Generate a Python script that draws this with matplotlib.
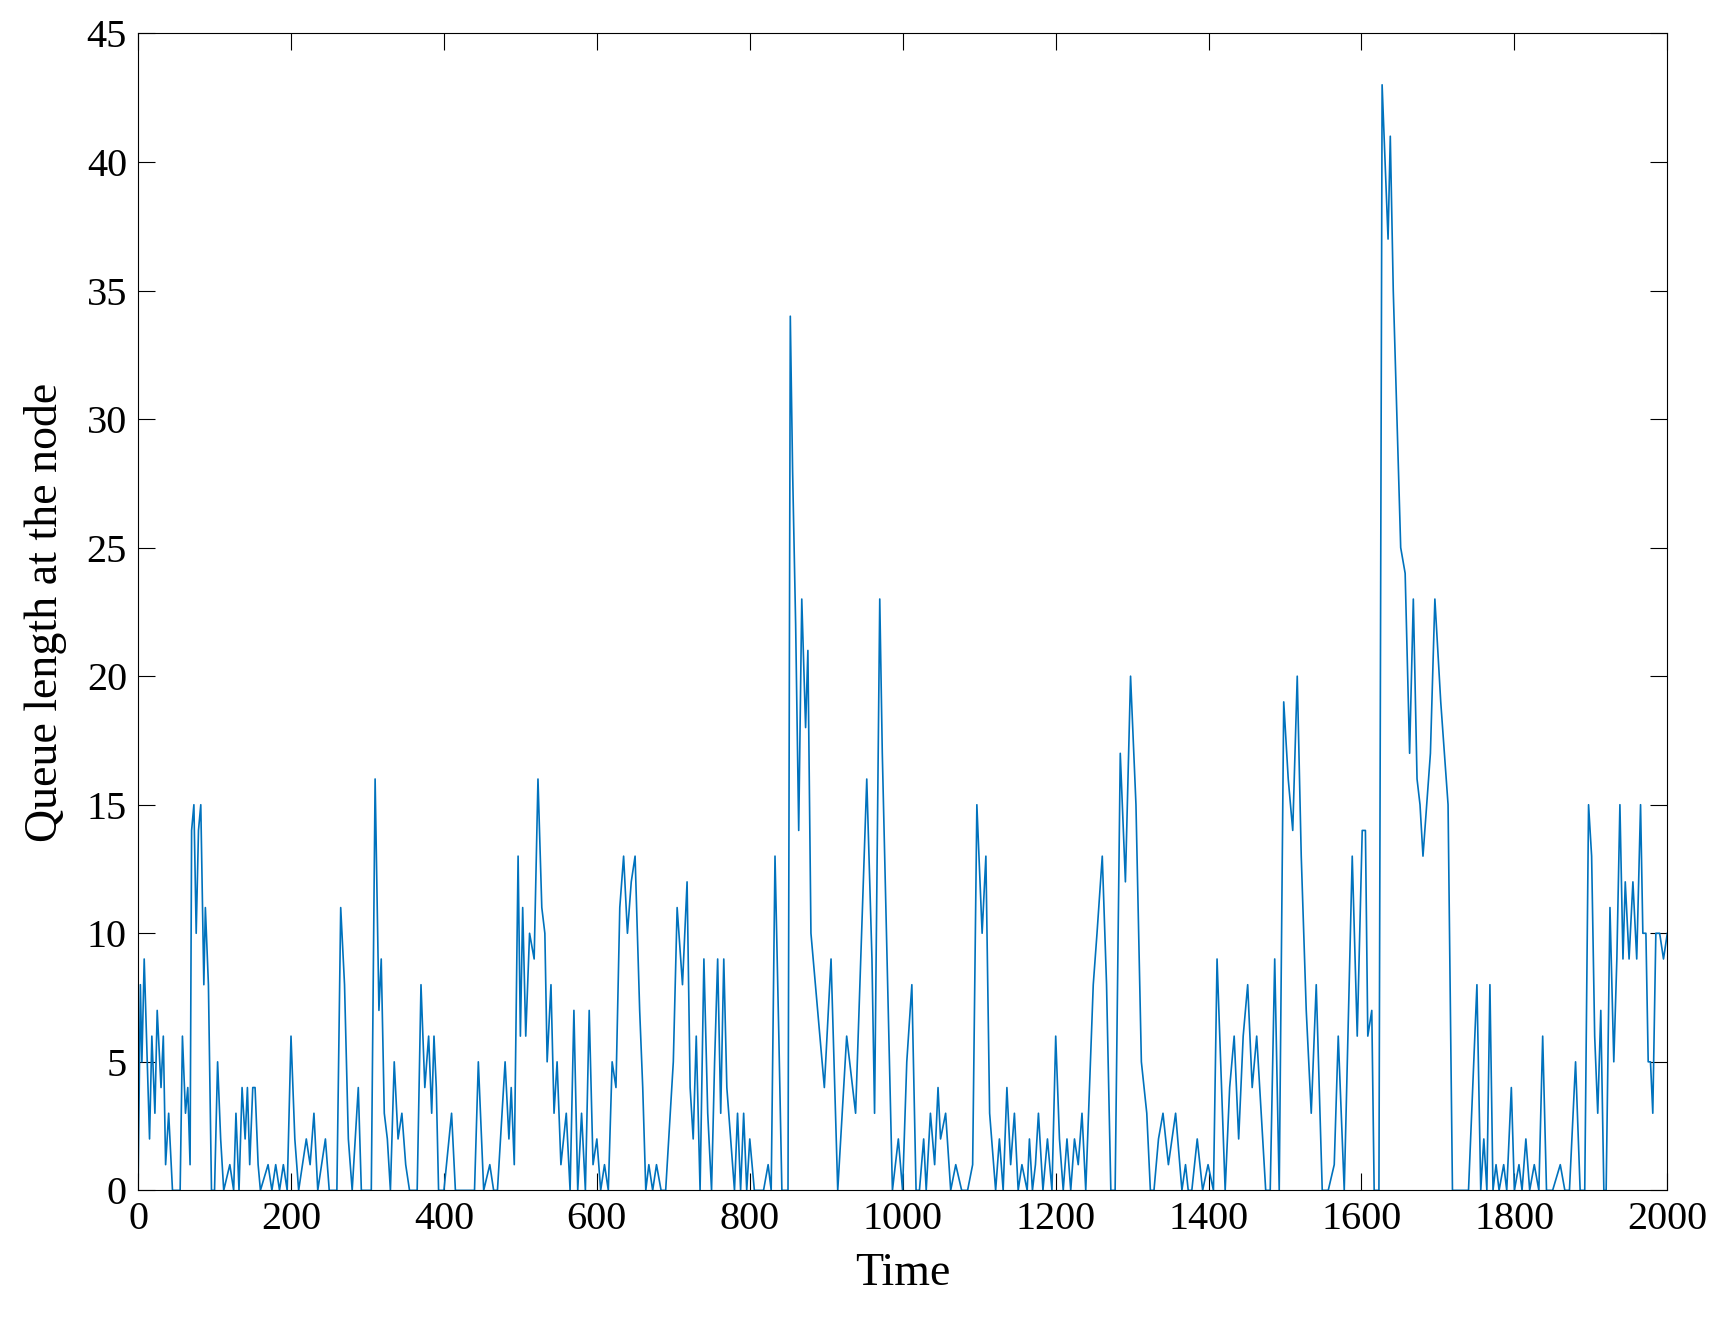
import matplotlib
matplotlib.use("Agg")
import matplotlib.pyplot as plt
import numpy as np

# (time, queue length) breakpoints
points = [
 (0,0),(3,8),(5,5),(8,9),(12,5),(15,2),(18,6),(22,3),(25,7),(30,4),(33,6),(36,1),(40,3),(45,0),
 (55,0),(58,6),(62,3),(65,4),(68,1),(70,14),(73,15),(76,10),(79,14),(82,15),(86,8),(88,11),(92,8),(96,0),
 (100,0),(104,5),(108,2),(112,0),(120,1),(125,0),(128,3),(132,0),(136,4),(140,2),(143,4),(146,1),(150,4),
 (153,4),(157,1),(160,0),(170,1),(175,0),(180,1),(185,0),(190,1),(195,0),(200,6),(205,2),(210,0),
 (220,2),(225,1),(230,3),(235,0),(245,2),(250,0),(260,0),(265,11),(270,8),(275,2),(280,0),(288,4),(292,0),
 (305,0),(310,16),(315,7),(318,9),(322,3),(326,2),(330,0),(335,5),(340,2),(345,3),(350,1),(355,0),
 (365,0),(370,8),(375,4),(380,6),(384,3),(387,6),(390,4),(393,0),(400,0),(410,3),(415,0),
 (440,0),(445,5),(452,0),(460,1),(465,0),(470,0),(480,5),(485,2),(488,4),(492,1),(497,13),(500,6),
 (503,11),(507,6),(512,10),(518,9),(523,16),(528,11),(532,10),(535,5),(540,8),(544,3),(548,5),(553,1),
 (560,3),(565,0),(570,7),(575,0),(580,3),(585,0),(590,7),(595,1),(600,2),(605,0),(610,1),(615,0),
 (620,5),(625,4),(630,11),(635,13),(640,10),(645,12),(650,13),(656,7),(660,4),(664,0),(668,1),(673,0),
 (678,1),(684,0),(690,0),(700,5),(705,11),(712,8),(718,12),(722,4),(726,2),(730,6),(735,0),(740,9),
 (745,3),(750,0),(754,5),(758,9),(762,3),(766,9),(770,4),(775,2),(780,0),(784,3),(788,0),(792,3),
 (796,0),(800,2),(806,0),(812,0),(818,0),(824,1),(828,0),(833,13),(838,6),(842,0),(846,0),
 (850,0),(853,34),(856,28),(860,22),(864,14),(868,23),(873,18),(876,21),(880,10),(883,7),(886,4),
 (889,9),(892,0),(896,6),(900,3),(905,16),(909,9),(911,3),(915,23),(918,17),(925,7),(930,0),
 (937,2),(942,0),(947,5),(953,8),(958,0),(962,0),(967,2),(970,0),(975,3),(980,1),(984,4),(987,2),
 (993,3),(999,0),(1005,1),(1012,0),(1019,0),(1025,1),(1030,15),(1037,10),(1042,13),(1047,3),(1055,0),
 (1060,2),(1065,0),(1070,4),(1075,1),(1080,3),(1085,0),(1090,1),(1097,0),(1100,2),(1104,0),(1108,1),
 (1112,3),(1118,0),(1124,2),(1130,0),(1135,6),(1140,2),(1145,0),(1150,2),(1155,0),(1160,2),(1165,1),
 (1170,3),(1175,0),(1180,4),(1185,8),(1190,10),(1197,13),(1202,8),(1207,0),(1212,0),(1218,17),
 (1224,12),(1230,20),(1236,15),(1242,5),(1248,3),(1252,0),(1256,0),(1261,2),(1266,3),(1272,1),
 (1280,3),(1287,0),(1291,1),(1294,0),(1298,0),(1304,2),(1310,0),(1316,1),(1322,0),(1326,9),(1335,0),
 (1340,4),(1345,6),(1350,2),(1355,6),(1360,8),(1365,4),(1370,6),(1375,3),(1380,0),(1385,0),(1390,9),
 (1395,0),(1400,19),(1405,16),(1410,14),(1415,20),(1419,13),(1424,7),(1429,3),(1434,8),(1440,0),
 (1446,0),(1452,1),(1456,6),(1462,0),(1470,13),(1475,6),(1480,14),(1484,14),(1487,6),(1492,7),(1495,0),
 (1501,0),(1505,43),(1509,40),(1513,37),(1516,41),(1520,35),(1525,30),(1530,25),(1536,24),(1542,17),
 (1547,23),(1552,16),(1556,15),(1560,13),(1570,17),(1576,23),(1580,19),(1585,15),(1588,0),
]
# time-axis correction for the middle section (times first read on a compressed scale)
old_t = [0, 880, 905, 915, 1030, 1197, 1230, 1415, 1480, 1505, 1576, 1588]
new_t = [0, 880, 953, 970, 1097, 1261, 1298, 1516, 1601, 1627, 1696, 1719]

points2 = [
 (1740,0),(1751,8),(1756,0),(1760,2),(1764,0),(1768,8),(1772,0),(1776,1),(1780,0),(1786,1),
 (1790,0),(1796,4),(1800,0),(1806,1),(1810,0),(1815,2),(1820,0),(1826,1),(1832,0),(1837,6),(1842,0),
 (1850,0),(1860,1),(1866,0),(1872,0),(1880,5),(1886,0),(1892,0),(1897,15),(1901,13),(1905,6),(1909,3),
 (1913,7),(1917,0),(1920,0),(1925,11),(1930,5),(1934,9),(1938,15),(1942,9),(1945,12),(1950,9),
 (1955,12),(1960,9),(1965,15),(1968,10),(1972,10),(1975,5),(1978,5),(1981,3),(1985,10),(1990,10),
 (1995,9),(2000,10),
]

t1 = np.interp([p[0] for p in points], old_t, new_t)
t = list(t1) + [p[0] for p in points2]
q = [p[1] for p in points] + [p[1] for p in points2]

fig = plt.figure(figsize=(17.26, 13.36), dpi=100)
ax = fig.add_axes([0.080, 0.109, 0.886, 0.866])
ax.plot(t, q, color='#0072BD', linewidth=1.2)
ax.set_xlim(0, 2000)
ax.set_ylim(0, 45)
ax.set_xticks(range(0, 2001, 200))
ax.set_yticks(range(0, 46, 5))
ax.tick_params(direction='in', length=12, labelsize=29, top=True, right=True, pad=8)
for lab in ax.get_xticklabels() + ax.get_yticklabels():
    lab.set_fontfamily('Liberation Serif')
ax.set_xlabel('Time', fontsize=33, family='Liberation Serif', labelpad=10)
ax.set_ylabel('Queue length at the node', fontsize=33, family='Liberation Serif', labelpad=14)
fig.savefig('out.png', dpi=100)
